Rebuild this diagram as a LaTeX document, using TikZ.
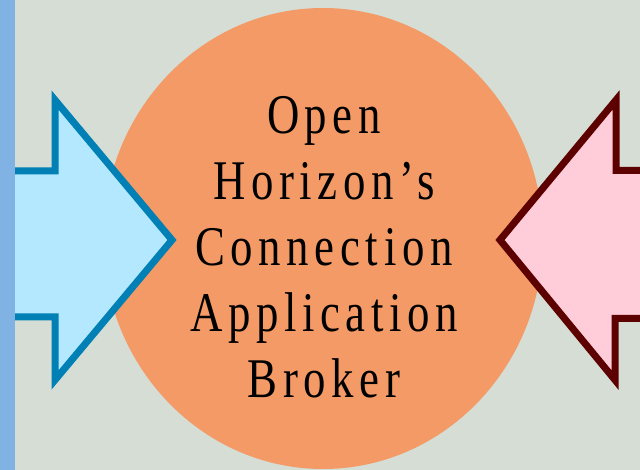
\documentclass[tikz,border=0pt]{standalone}
\usepackage{fontspec}
\setmainfont{Liberation Serif}[FakeStretch=0.8,LetterSpace=10]
\usepackage{xcolor}
\definecolor{bg}{RGB}{213,221,213}
\definecolor{stripe}{RGB}{128,178,228}
\definecolor{brokerorange}{RGB}{243,154,102}
\definecolor{leftline}{RGB}{0,128,180}
\definecolor{leftfill}{RGB}{179,232,255}
\definecolor{rightline}{RGB}{92,0,0}
\definecolor{rightfill}{RGB}{255,204,217}
\tikzset{arrowshape/.style={line width=5.25pt,miter limit=10}}

\begin{document}
\begin{tikzpicture}[x=.75pt,y=-.75pt]
\fill[bg] (0,0) rectangle (640,470);
\useasboundingbox (0,0) rectangle (640,470);
\fill[brokerorange] (323,238.5) ellipse [x radius=220, y radius=230.5];
\draw[arrowshape,draw=leftline,fill=leftfill] (-20,171) -- (55,171) -- (55,100) -- (172,240) -- (55,380) -- (55,317) -- (-20,317) -- cycle;
\draw[arrowshape,draw=rightline,fill=rightfill] (660,170.5) -- (616,170.5) -- (616,100) -- (500,240) -- (615,380) -- (615,318.5) -- (660,318.5) -- cycle;
\fill[stripe] (0,0) rectangle (15,470);
\node[align=center,inner sep=0pt,font=\fontsize{42}{49.5}\selectfont] (broker) at (324,247) {Open\\Horizon's\\Connection\\Application\\Broker};
\end{tikzpicture}
\end{document}
